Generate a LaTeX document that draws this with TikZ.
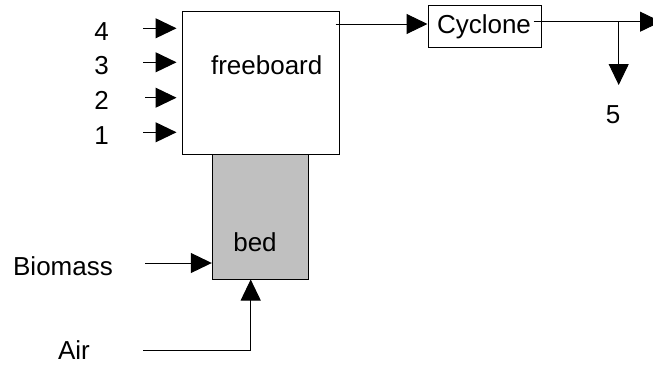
\documentclass[tikz,border=0pt]{standalone}
\usepackage{fontspec}
\setmainfont{Liberation Sans}
\usetikzlibrary{arrows.meta}
\definecolor{bedgray}{HTML}{C0C0C0}
\begin{document}
\begin{tikzpicture}[x=1pt,y=-1pt,line width=1pt,
  font=\fontsize{26}{30}\selectfont,
  arr/.style={-{Triangle[length=21pt,width=20pt]}},
  lbl/.style={anchor=base,inner sep=0pt},
  box/.style={draw,inner sep=0pt}]
\useasboundingbox (0,0) rectangle (653,364);
% boxes
\node[box,minimum width=157pt,minimum height=143pt] (fb) at (260.5,82.5) {};
\node[box,fill=bedgray,minimum width=96pt,minimum height=125pt] (bed) at (260.3,216.5) {};
\node[box,minimum width=113pt,minimum height=42pt] (cy) at (484.5,26) {};
% labels
\node[lbl] (fbl) at (266.7,74) {freeboard};
\node[lbl] (bedl) at (255,251.7) {bed};
\node[lbl] (cyl) at (484,33.3) {Cyclone};
\node[lbl] (l4) at (101.7,40) {4};
\node[lbl] (l3) at (101.7,74.7) {3};
\node[lbl] (l2) at (101.7,109) {2};
\node[lbl] (l1) at (101.7,144) {1};
\node[lbl] (l5) at (613,123.3) {5};
\node[lbl] (lbm) at (63,275) {Biomass};
\node[lbl] (lair) at (74,359.5) {Air};
% free ends
\coordinate (in4) at (143,28.3);
\coordinate (in3) at (143,62.3);
\coordinate (in2) at (145,97.7);
\coordinate (in1) at (143,132.3);
\coordinate (bm) at (145,263);
\coordinate (air) at (143,350.7);
\coordinate (out) at (661,21.7);
\coordinate (br) at (618.7,21.7);
\coordinate (five) at (618.7,85);
% connectors
\foreach \c in {in4,in3,in2,in1}
  \draw[arr] (\c) -- ([xshift=-5pt]fb.west |- \c);
\draw[arr] ([xshift=-4pt]fb.east |- 0,24) -- (cy.west |- 0,24);
\draw[arr] ([xshift=-8pt]cy.east |- out) -- (out);
\draw[arr] (br) -- (five);
\draw[arr] (bm) -- (bed.west |- bm);
\draw[arr] (air) -| ([xshift=-9.6pt]bed.south);
\end{tikzpicture}
\end{document}
